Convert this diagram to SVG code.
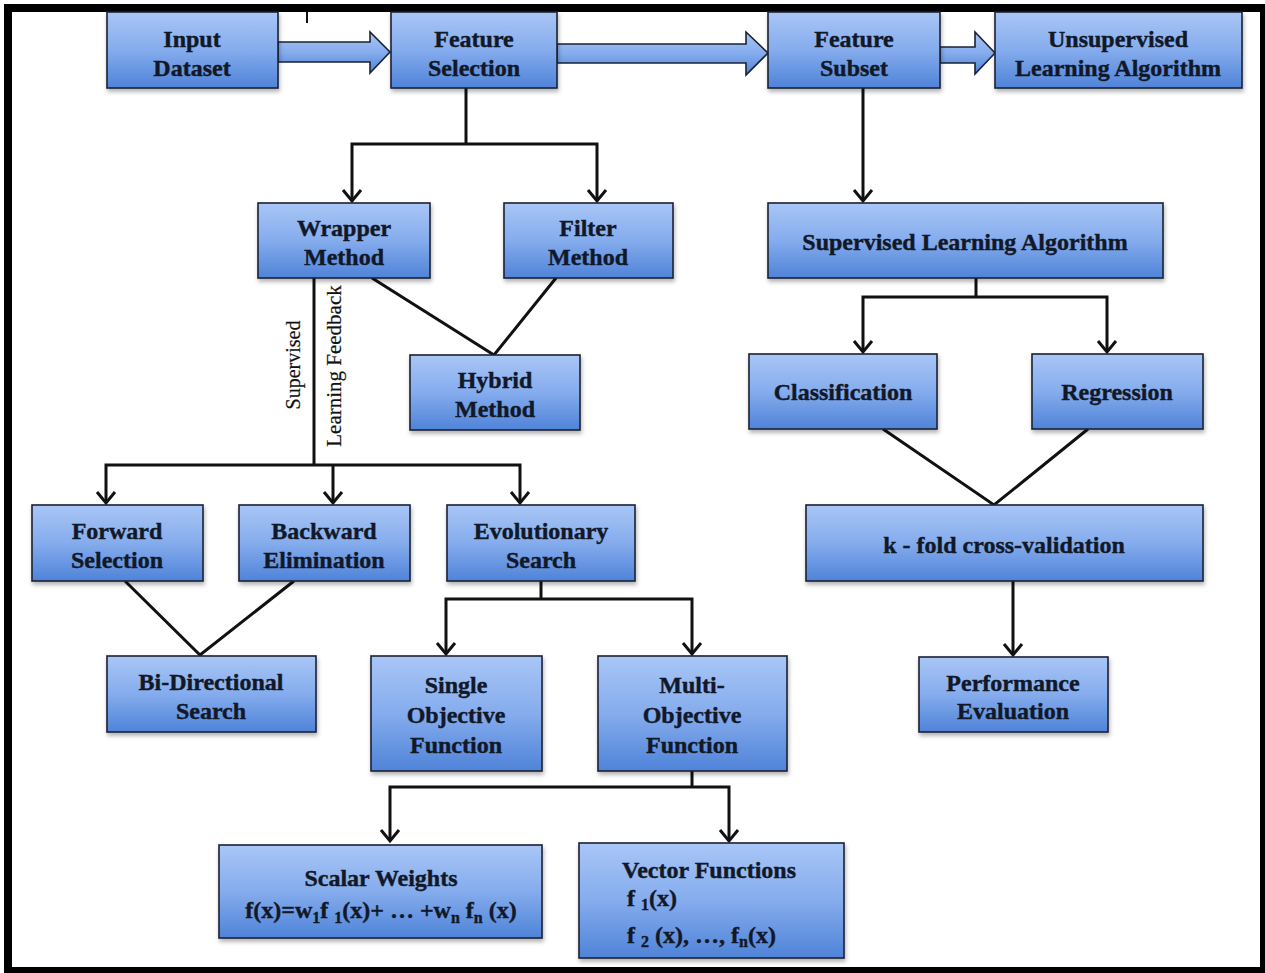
<svg xmlns="http://www.w3.org/2000/svg" width="1265" height="973" viewBox="0 0 1265 973">
<defs>
<linearGradient id="boxGrad" x1="0" y1="0" x2="0" y2="1">
<stop offset="0" stop-color="#a9c6f6"/>
<stop offset="0.5" stop-color="#85aced"/>
<stop offset="1" stop-color="#4f83d8"/>
</linearGradient>
<filter id="shadow" x="-10%" y="-10%" width="120%" height="130%">
<feDropShadow dx="1" dy="3" stdDeviation="2" flood-color="#000" flood-opacity="0.3"/>
</filter>
<marker id="chev" viewBox="-14 -12 16 24" markerWidth="16" markerHeight="24" refX="0" refY="0" orient="auto-start-reverse" markerUnits="userSpaceOnUse" overflow="visible">
<path d="M-11,-9 L0,0 L-11,9" fill="none" stroke="#111" stroke-width="3" stroke-linejoin="miter"/>
</marker>
</defs>
<style>
.box{fill:url(#boxGrad);stroke:#1b2233;stroke-width:1.6;filter:url(#shadow)}
.blk{fill:url(#boxGrad);stroke:#1b2233;stroke-width:1.6}
.t{font-family:"Liberation Serif","Times New Roman",serif;font-weight:bold;font-size:24px;fill:#111827;stroke:#111827;stroke-width:0.4;text-anchor:middle}
.l{text-anchor:start}
.c{fill:none;stroke:#111;stroke-width:3}
.a{fill:none;stroke:#111;stroke-width:3;marker-end:url(#chev)}
.a2{fill:none;stroke:#111;stroke-width:3;marker-start:url(#chev);marker-end:url(#chev)}
.v{font-family:"Liberation Serif","Times New Roman",serif;fill:#111;stroke:#111;stroke-width:0.2;text-anchor:middle}
</style>
<rect x="0" y="0" width="1265" height="973" fill="#fff"/>
<path d="M4,4 H1265 V973 H4 Z M12,12 V967 H1260 V12 Z" fill="#000" fill-rule="evenodd"/>
<line x1="307" y1="12" x2="307" y2="23" stroke="#111" stroke-width="2"/>

<g id="connectors">
<polygon class="blk" points="278,42 370,42 370,32 390,52 370,73 370,62 278,62"/>
<polygon class="blk" points="557,44 746,44 746,32 768,53 746,75 746,63 557,63"/>
<polygon class="blk" points="940,47 975,47 975,32 995,53 975,74 975,63 940,63"/>
<path class="c" d="M466,88 V144"/>
<path class="a2" d="M352,201 V144 H597 V201"/>
<path class="a" d="M863,88 V201"/>
<path class="c" d="M372,278 L494,355 L556,278"/>
<path class="c" d="M314,278 V465"/>
<path class="a2" d="M106,503 V465 H520 V503"/>
<path class="a" d="M333,465 V503"/>
<path class="c" d="M125,581 L200,655 L294,581"/>
<path class="c" d="M541,581 V599"/>
<path class="a2" d="M446,654 V599 H692 V654"/>
<path class="c" d="M692,771 V787"/>
<path class="a2" d="M390,841 V787 H729 V841"/>
<path class="c" d="M976,278 V297"/>
<path class="a2" d="M863,352 V297 H1107 V352"/>
<path class="c" d="M883,429 L994,505 L1088,429"/>
<path class="a" d="M1013,581 V655"/>
</g>

<g id="input-dataset"><rect class="box" x="107" y="12" width="171" height="76"/><text class="t" x="192" y="47">Input</text><text class="t" x="192" y="76">Dataset</text></g>
<g id="feature-selection"><rect class="box" x="391" y="12" width="166" height="76"/><text class="t" x="474" y="47">Feature</text><text class="t" x="474" y="76">Selection</text></g>
<g id="feature-subset"><rect class="box" x="768" y="12" width="172" height="76"/><text class="t" x="854" y="47">Feature</text><text class="t" x="854" y="76">Subset</text></g>
<g id="unsupervised"><rect class="box" x="995" y="12" width="247" height="76"/><text class="t" x="1118" y="47">Unsupervised</text><text class="t" x="1118" y="76">Learning Algorithm</text></g>

<g id="wrapper"><rect class="box" x="258" y="203" width="172" height="75"/><text class="t" x="344" y="236">Wrapper</text><text class="t" x="344" y="265">Method</text></g>
<g id="filter"><rect class="box" x="504" y="203" width="169" height="75"/><text class="t" x="588" y="236">Filter</text><text class="t" x="588" y="265">Method</text></g>
<g id="hybrid"><rect class="box" x="410" y="355" width="170" height="75"/><text class="t" x="495" y="388">Hybrid</text><text class="t" x="495" y="417">Method</text></g>
<g id="supervised-learning"><rect class="box" x="768" y="203" width="395" height="75"/><text class="t" x="965" y="250">Supervised Learning Algorithm</text></g>

<g id="feedback-labels">
<text class="v" font-size="20" transform="translate(300,365) rotate(-90)">Supervised</text>
<text class="v" font-size="21" transform="translate(341,366) rotate(-90)">Learning Feedback</text>
</g>

<g id="classification"><rect class="box" x="749" y="354" width="188" height="75"/><text class="t" x="843" y="400">Classification</text></g>
<g id="regression"><rect class="box" x="1032" y="354" width="171" height="75"/><text class="t" x="1117" y="400">Regression</text></g>

<g id="forward"><rect class="box" x="32" y="505" width="171" height="76"/><text class="t" x="117" y="539">Forward</text><text class="t" x="117" y="568">Selection</text></g>
<g id="backward"><rect class="box" x="239" y="505" width="171" height="76"/><text class="t" x="324" y="539">Backward</text><text class="t" x="324" y="568">Elimination</text></g>
<g id="evolutionary"><rect class="box" x="447" y="505" width="188" height="76"/><text class="t" x="541" y="539">Evolutionary</text><text class="t" x="541" y="568">Search</text></g>
<g id="kfold"><rect class="box" x="806" y="505" width="397" height="76"/><text class="t" x="1004" y="553">k - fold cross-validation</text></g>

<g id="bidirectional"><rect class="box" x="107" y="656" width="209" height="76"/><text class="t" x="211" y="690">Bi-Directional</text><text class="t" x="211" y="719">Search</text></g>
<g id="single"><rect class="box" x="371" y="656" width="171" height="115"/><text class="t" x="456" y="693">Single</text><text class="t" x="456" y="723">Objective</text><text class="t" x="456" y="753">Function</text></g>
<g id="multi"><rect class="box" x="598" y="656" width="189" height="115"/><text class="t" x="692" y="693">Multi-</text><text class="t" x="692" y="723">Objective</text><text class="t" x="692" y="753">Function</text></g>
<g id="performance"><rect class="box" x="919" y="657" width="189" height="75"/><text class="t" x="1013" y="691">Performance</text><text class="t" x="1013" y="719">Evaluation</text></g>

<g id="scalar"><rect class="box" x="219" y="845" width="323" height="93"/><text class="t" x="381" y="886">Scalar Weights</text><text class="t" x="381" y="918">f(x)=w<tspan dy="5" font-size="16">1</tspan><tspan dy="-5">f </tspan><tspan dy="5" font-size="16">1</tspan><tspan dy="-5">(x)+ … +w</tspan><tspan dy="5" font-size="16">n</tspan><tspan dy="-5"> f</tspan><tspan dy="5" font-size="16">n</tspan><tspan dy="-5"> (x)</tspan></text></g>
<g id="vector"><rect class="box" x="579" y="843" width="265" height="115"/><text class="t" x="709" y="878">Vector Functions</text><text class="t l" x="627" y="906">f <tspan dy="4" font-size="16">1</tspan><tspan dy="-4">(x)</tspan></text><text class="t l" x="627" y="943">f <tspan dy="4" font-size="16">2</tspan><tspan dy="-4"> (x), …, f</tspan><tspan dy="4" font-size="16">n</tspan><tspan dy="-4">(x)</tspan></text></g>
</svg>
